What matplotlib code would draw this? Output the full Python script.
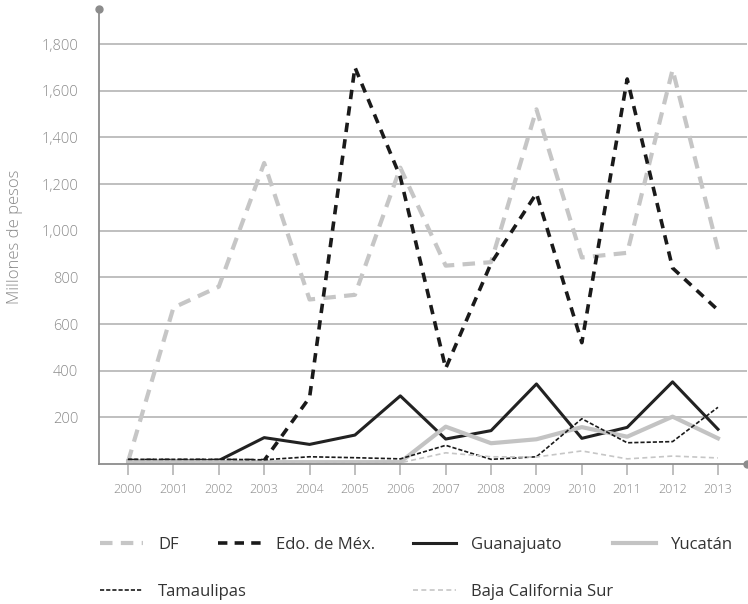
import numpy as np
import matplotlib.pyplot as plt

plt.rcParams['font.family'] = ['Open Sans', 'DejaVu Sans']

# datos (millones de pesos)
years = list(range(2000, 2014))
df_vals = [10, 670, 760, 1290, 705, 725, 1270, 850, 865, 1520, 885, 905, 1690, 920]
edomex = [15, 15, 15, 15, 285, 1700, 1230, 410, 860, 1160, 520, 1650, 840, 660]
guanajuato = [12, 12, 15, 113, 84, 124, 292, 107, 143, 343, 110, 157, 352, 149]
yucatan = [8, 8, 8, 8, 8, 8, 8, 160, 89, 106, 158, 117, 203, 110]
tamaulipas = [20, 20, 20, 18, 31, 27, 22, 80, 20, 31, 194, 91, 96, 243]
bcs = [5, 5, 5, 5, 5, 5, 5, 48, 31, 30, 56, 22, 34, 26]
yticks = [200, 400, 600, 800, 1000, 1200, 1400, 1600, 1800]

axis_c = '#8c8c8c'
grid_c = '#b4b4b4'
txt_c = '#8a8a8a'

W, H = 748, 604
fig = plt.figure(figsize=(W / 100, H / 100), dpi=100)
ax = fig.add_axes([99 / W, 1 - 464 / H, 648 / W, 455 / H])

l_df, = ax.plot(years, df_vals, color='#c6c6c6', lw=3, dashes=(3, 2.0), label='DF')
l_ed, = ax.plot(years, edomex, color='#1a1a1a', lw=2.6, dashes=(2.6, 2.0), label='Edo. de Méx.')
l_gu, = ax.plot(years, guanajuato, color='#222222', lw=2.2, label='Guanajuato')
l_yu, = ax.plot(years, yucatan, color='#c3c3c3', lw=3, label='Yucatán')
l_ta, = ax.plot(years, tamaulipas, color='#1a1a1a', lw=1.2, dashes=(2.5, 1.2), label='Tamaulipas')
l_bc, = ax.plot(years, bcs, color='#c6c6c6', lw=1.2, dashes=(3, 2), label='Baja California Sur')

ax.set_xlim(1999.36, 2013.64)
ax.set_ylim(0, 1950)
ax.set_yticks(yticks)
ax.set_yticklabels([f'{v:,}' for v in yticks], fontweight='light')
ax.set_xticks(years)
ax.set_xticklabels([str(y) for y in years], fontweight='light')
for v in yticks:
    ax.axhline(v, color=grid_c, lw=1.2, zorder=0)

for s in ['top', 'right']:
    ax.spines[s].set_visible(False)
for s in ['left', 'bottom']:
    ax.spines[s].set_color(axis_c)
    ax.spines[s].set_linewidth(1.3)
ax.plot([0], [1], 'o', color=axis_c, ms=5, transform=ax.transAxes, clip_on=False)
ax.plot([1], [0], 'o', color=axis_c, ms=5, transform=ax.transAxes, clip_on=False)

ax.tick_params(axis='y', length=0, pad=15, labelsize=10.5, labelcolor=txt_c)
ax.tick_params(axis='x', length=8, width=1.2, color='#b4b4b4', pad=6, labelsize=9, labelcolor=txt_c)
ax.set_ylabel('Millones de pesos', color=txt_c, fontsize=12, fontweight='light')
ax.yaxis.set_label_coords(-0.117, 0.5)

# leyenda: cada entrada en su sitio (x del inicio de la muestra, y del centro)
leg_pos = [(l_df, 100, 545), (l_ed, 218, 545), (l_gu, 413, 545), (l_yu, 613, 545),
           (l_ta, 100, 592), (l_bc, 413, 592)]
for h, x, y in leg_pos:
    fig.legend(handles=[h], loc='center left', bbox_to_anchor=(x / W, 1 - y / H),
               frameon=False, fontsize=12, handlelength=2.6, handletextpad=0.9,
               borderpad=0, borderaxespad=0, labelcolor='#333333')

fig.savefig('out.png', dpi=100)
